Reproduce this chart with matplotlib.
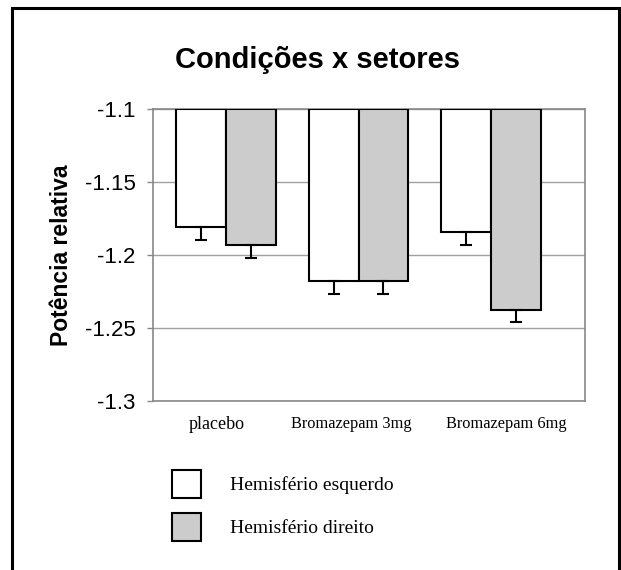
import numpy as np
import matplotlib
matplotlib.use('Agg')
import matplotlib.pyplot as plt
from matplotlib.patches import Rectangle

categories = ['placebo', 'Bromazepam 3mg', 'Bromazepam 6mg']
left_vals = [-1.181, -1.218, -1.184]
right_vals = [-1.193, -1.218, -1.238]
left_err = [0.009, 0.0085, 0.009]
right_err = [0.009, 0.0085, 0.008]
series_names = ['Hemisfério esquerdo', 'Hemisfério direito']
yticks = [-1.3, -1.25, -1.2, -1.15, -1.1]
ytick_labels = ['-1.3', '-1.25', '-1.2', '-1.15', '-1.1']

sans = 'Liberation Sans'
serif = 'Liberation Serif'

fig = plt.figure(figsize=(6.21, 5.70), dpi=100)
ax = fig.add_axes([153/621, 1-401/570, 432/621, 292/570])

x = np.arange(len(categories))
w = 0.374
top = -1.1
kw = dict(edgecolor='black', linewidth=1.5, zorder=3)
b1 = ax.bar(x - w/2, np.array(left_vals) - top, w, bottom=top, color='white',
            label=series_names[0], **kw)
b2 = ax.bar(x + w/2, np.array(right_vals) - top, w, bottom=top, color='#cccccc',
            label=series_names[1], **kw)
ekw = dict(fmt='none', ecolor='black', elinewidth=1.5, capsize=4, capthick=1.5, zorder=4)
ax.errorbar(x - w/2, left_vals, yerr=[left_err, np.zeros(3)], **ekw)
ax.errorbar(x + w/2, right_vals, yerr=[right_err, np.zeros(3)], **ekw)

ax.set_xlim(-0.551, 2.709)
ax.set_ylim(-1.3, -1.1)
ax.set_yticks(yticks)
ax.set_yticklabels(ytick_labels, fontfamily=sans, fontsize=16)
ax.tick_params(axis='y', length=4.5, width=1, color='#888888', pad=8)
# labels in the original sit a little off the group centres
ax.set_xticks(x + np.array([-0.068, -0.053, 0.113]))
ax.set_xticklabels(categories, fontfamily=serif)
for lbl, fs in zip(ax.get_xticklabels(), [13, 11.8, 11.8]):
    lbl.set_fontsize(fs)
ax.tick_params(axis='x', length=0, pad=11)
ax.yaxis.grid(True, color='#a0a0a0', linewidth=1)
ax.set_axisbelow(True)
for s in ax.spines.values():
    s.set_color('#888888')
    s.set_linewidth(1.2)

ax.set_ylabel('Potência relativa', fontfamily=sans, fontsize=16.5, fontweight='bold')
ax.yaxis.set_label_coords(-0.185, 0.5)

fig.text(0.512, 1-60/570, 'Condições x setores', ha='center', va='center',
         fontfamily=sans, fontsize=21, fontweight='bold')

leg = fig.legend(handles=[b1, b2], loc='upper left',
                 bbox_to_anchor=(172/621, 1-470/570), frameon=False, borderpad=0,
                 borderaxespad=0, prop={'family': serif, 'size': 14}, handlelength=1.5,
                 handleheight=1.84, handletextpad=1.5, labelspacing=0.75)

fig.patches.append(Rectangle((12/621, -0.02), 607/621, 1-8/570+0.02,
                             transform=fig.transFigure, fill=False,
                             edgecolor='black', linewidth=2.2))

fig.savefig('out.png', dpi=100)
